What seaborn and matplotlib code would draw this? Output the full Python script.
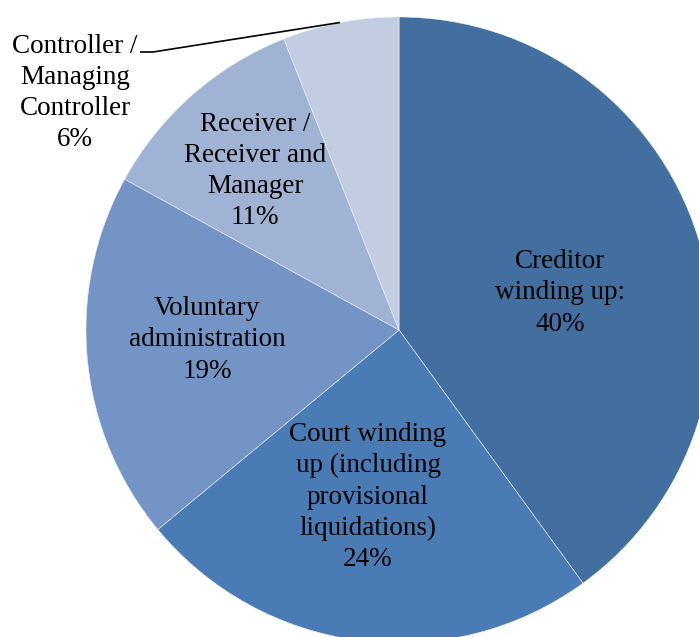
import matplotlib
matplotlib.use("Agg")
import matplotlib.pyplot as plt
import seaborn as sns
import numpy as np

# Data
categories = ["Creditor winding up", "Court winding up (including provisional liquidations)",
              "Voluntary administration", "Receiver / Receiver and Manager",
              "Controller / Managing Controller"]
values = [40, 24, 19, 11, 6]
labels = ["Creditor\nwinding up:\n40%",
          "Court winding\nup (including\nprovisional\nliquidations)\n24%",
          "Voluntary\nadministration\n19%",
          "Receiver /\nReceiver and\nManager\n11%",
          "Controller /\nManaging\nController\n6%"]
colors = ["#426EA0", "#4A7BB5", "#7594C6", "#A1B3D4", "#C3CDE2"]

sns.set_theme(style="white")
plt.rcParams['font.family'] = ['Liberation Serif', 'DejaVu Serif']

W, H = 699, 637
CX, CY, R = 399, 330, 313
fig = plt.figure(figsize=(W / 100, H / 100), dpi=100)
ax = fig.add_axes([0, 0, 1, 1])

ax.pie(values, colors=colors, startangle=90, counterclock=False, radius=1,
       wedgeprops=dict(edgecolor="#E8EEF6", linewidth=0.4))

def px(x, y):
    return (x - CX) / R, (CY - y) / R

# label positions (pixel centres)
label_pos = [(560, 293), (368, 497), (207, 340), (255, 171), (75, 93)]
for lab, (x, y) in zip(labels, label_pos):
    tx, ty = px(x, y)
    ax.text(tx, ty, lab, ha="center", va="center", fontsize=19.5,
            linespacing=1.32, color="black")

# leader line for controller
lx, ly = zip(*[px(140, 52), px(153, 52), px(340, 22.5)])
ax.plot(lx, ly, color="black", linewidth=1.2, solid_capstyle="butt")

ax.set_xlim(-CX / R, (W - CX) / R)
ax.set_ylim(-(H - CY) / R, CY / R)
ax.set_aspect("auto")
ax.axis("off")
fig.savefig("out.png", dpi=100, facecolor="white")
